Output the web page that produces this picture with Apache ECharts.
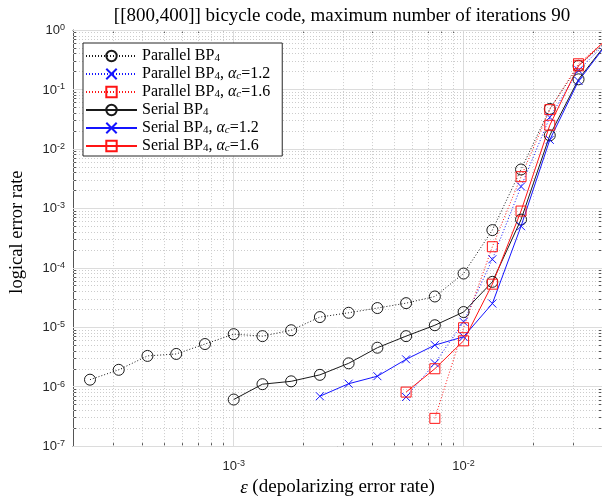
<!DOCTYPE html>
<html><head><meta charset="utf-8">
<script src="https://cdn.jsdelivr.net/npm/echarts@6/dist/echarts.min.js"></script>
<style>html,body{margin:0;padding:0;background:#fff}#c{width:602px;height:502px}</style>
</head><body><div id="c"></div>
<script>
// depolarizing error rates (x positions of the simulated points)
const eps = [2.371e-4, 3.162e-4, 4.217e-4, 5.623e-4, 7.499e-4, 1.0e-3, 1.334e-3, 1.778e-3, 2.371e-3,
             3.162e-3, 4.217e-3, 5.623e-3, 7.499e-3, 1.0e-2, 1.334e-2, 1.778e-2, 2.371e-2, 3.162e-2, 4.217e-2];
// logical error rates, aligned with eps (null = not simulated)
const parallelBP4 = [1.31e-6, 1.92e-6, 3.29e-6, 3.55e-6, 5.21e-6, 7.64e-6, 7.08e-6, 8.9e-6, 1.48e-5,
                     1.75e-5, 2.1e-5, 2.54e-5, 3.29e-5, 8.0e-5, 4.3e-4, 4.5e-3, 0.047, 0.25, 0.66];
const parallelBP4a12 = [null, null, null, null, null, null, null, null, null,
                        null, null, 6.7e-7, 2.47e-6, 1.23e-5, 1.39e-4, 2.33e-3, 0.034, 0.21, 0.64];
const parallelBP4a16 = [null, null, null, null, null, null, null, null, null,
                        null, null, null, 2.93e-7, 9.8e-6, 2.26e-4, 3.41e-3, 0.0457, 0.27, 0.7];
const serialBP4 = [null, null, null, null, null, 6.07e-7, 1.1e-6, 1.23e-6, 1.58e-6,
                   2.47e-6, 4.52e-6, 7.08e-6, 1.08e-5, 1.8e-5, 5.8e-5, 6.46e-4, 0.0169, 0.148, 0.62];
const serialBP4a12 = [null, null, null, null, null, null, null, null, 6.9e-7,
                      1.12e-6, 1.5e-6, 2.88e-6, 5.0e-6, 6.9e-6, 2.5e-5, 5.0e-4, 0.0142, 0.139, 0.6];
const serialBP4a16 = [null, null, null, null, null, null, null, null, null,
                      null, null, 8.1e-7, 2.0e-6, 5.9e-6, 5.3e-5, 9.0e-4, 0.025, 0.25, 0.72];

const seriesNames = ['Parallel BP4', 'Parallel BP4, αc=1.2', 'Parallel BP4, αc=1.6',
                     'Serial BP4', 'Serial BP4, αc=1.2', 'Serial BP4, αc=1.6'];
const xTicks = [1e-3, 1e-2];
const yTicks = [1e-7, 1e-6, 1e-5, 1e-4, 1e-3, 1e-2, 1e-1, 1];
const X_MIN = 2e-4, X_MAX = 4e-2, Y_MIN = 1e-7, Y_MAX = 1;

function minorTicks(lo, hi) {
  const out = [];
  const decades = [1e-7, 1e-6, 1e-5, 1e-4, 1e-3, 1e-2, 1e-1];
  decades.forEach(d => { for (let m = 2; m <= 9; m++) { const v = m * d; if (v > lo * 1.0001 && v < hi * 0.9999) out.push(v); } });
  return out;
}
const xMinor = minorTicks(X_MIN, X_MAX);
const yMinor = minorTicks(Y_MIN, Y_MAX);

function pairs(vals) { return eps.map((x, i) => vals[i] == null ? null : [x, vals[i]]).filter(Boolean); }

const SANS = 'Liberation Sans, Arial, sans-serif';
const SERIF = 'Liberation Serif, Times New Roman, serif';
const AX = '#555';
const supRich = {
  b: { fontFamily: SANS, fontSize: 13, color: '#262626', verticalAlign: 'bottom', lineHeight: 14, padding: [6, 0, 0, 0] },
  s: { fontFamily: SANS, fontSize: 9, color: '#262626', verticalAlign: 'top', lineHeight: 10 }
};
function powLabel(v) { const e = Math.round(Math.log10(v)); return '{b|10}{s|' + e + '}'; }

function xAx(pos, ticks, len, labels, line) {
  return {
    type: 'log', logBase: 10, min: X_MIN, max: X_MAX, position: pos,
    axisLine: { show: line, onZero: false, lineStyle: { color: AX, width: 1 } },
    axisTick: { show: true, inside: true, length: len, customValues: ticks, lineStyle: { color: AX, width: 1 } },
    axisLabel: labels ? { show: true, customValues: xTicks, formatter: powLabel, rich: supRich, margin: 13 } : { show: false },
    splitLine: { show: false }, minorTick: { show: false }
  };
}
function yAx(pos, ticks, len, labels, line) {
  return {
    type: 'log', logBase: 10, min: Y_MIN, max: Y_MAX, position: pos,
    axisLine: { show: line, onZero: false, lineStyle: { color: AX, width: 1 } },
    axisTick: { show: true, inside: true, length: len, customValues: ticks, lineStyle: { color: AX, width: 1 } },
    axisLabel: labels ? { show: true, customValues: yTicks, formatter: powLabel, rich: supRich, margin: 8 } : { show: false },
    splitLine: { show: false }, minorTick: { show: false }
  };
}

const xAxes = [xAx('bottom', xTicks, 5, true, true), xAx('bottom', xMinor, 3, false, false),
               xAx('top', xTicks, 5, false, true), xAx('top', xMinor, 3, false, false)];
xAxes[0].name = '{i|ε} (depolarizing error rate)';
xAxes[0].nameLocation = 'middle';
xAxes[0].nameGap = 31;
xAxes[0].nameTextStyle = { fontFamily: SERIF, fontSize: 19, color: '#000', rich: { i: { fontFamily: SERIF, fontStyle: 'italic', fontSize: 19, color: '#000' } } };
const yAxes = [yAx('left', yTicks, 5, true, true), yAx('left', yMinor, 3, false, false),
               yAx('right', yTicks, 5, false, true), yAx('right', yMinor, 3, false, false)];
yAxes[0].name = 'logical error rate';
yAxes[0].nameLocation = 'middle';
yAxes[0].nameGap = 46;
yAxes[0].nameTextStyle = { fontFamily: SERIF, fontSize: 18.5, color: '#000', padding: [0, 0, 0, 12] };

const gridLines = [];
xTicks.forEach(v => gridLines.push({ xAxis: v, lineStyle: { type: 'solid', color: '#dcdcdc', width: 1 } }));
xMinor.forEach(v => gridLines.push({ xAxis: v, lineStyle: { type: [1, 2], color: '#cccccc', width: 1 } }));
yTicks.forEach(v => gridLines.push({ yAxis: v, lineStyle: { type: 'solid', color: '#dcdcdc', width: 1 } }));
yMinor.forEach(v => gridLines.push({ yAxis: v, lineStyle: { type: [1, 2], color: '#cccccc', width: 1 } }));

const X_PATH = 'path://M0,0L10,10M10,0L0,10';
function mk(name, vals, color, dotted, symbol, size) {
  return {
    name, type: 'line', data: pairs(vals), xAxisIndex: 0, yAxisIndex: 0, z: 5, clip: true,
    symbol, symbolSize: size, showAllSymbol: true,
    lineStyle: { color, width: 1, type: dotted ? [1, 2] : 'solid' },
    itemStyle: { color: 'rgba(255,255,255,0)', borderColor: color, borderWidth: 1 },
    emphasis: { disabled: true }
  };
}
const BLK = '#1a1a1a', BLU = '#1414ff', RED = '#ff1414';
const series = [
  { type: 'line', data: [], z: 1, silent: true, xAxisIndex: 0, yAxisIndex: 0,
    markLine: { silent: true, precision: 20, symbol: ['none', 'none'], label: { show: false }, animation: false, data: gridLines } },
  mk(seriesNames[0], parallelBP4, BLK, true, 'circle', 11),
  mk(seriesNames[1], parallelBP4a12, BLU, true, X_PATH, 8),
  mk(seriesNames[2], parallelBP4a16, RED, true, 'rect', 10),
  mk(seriesNames[3], serialBP4, BLK, false, 'circle', 11),
  mk(seriesNames[4], serialBP4a12, BLU, false, X_PATH, 8),
  mk(seriesNames[5], serialBP4a16, RED, false, 'rect', 10)
];

function legendLabel(name) {
  const parts = name.split(', ');
  let s = '{t|' + parts[0].replace('BP4', 'BP') + '}{sub|4}';
  if (parts[1]) s += '{t|, }{a|α}{subi|c}{t|' + parts[1].slice(2) + '}';
  return s;
}

const chart = echarts.init(document.getElementById('c'), null, { renderer: 'canvas' });
chart.setOption({
  animation: false,
  backgroundColor: '#fff',
  title: { text: '[[800,400]] bicycle code, maximum number of iterations 90', left: 337, top: 2, textAlign: 'center',
           textStyle: { fontFamily: SERIF, fontSize: 19, fontWeight: 'normal', color: '#000' } },
  grid: { left: 71, right: 0, top: 30, bottom: 52, containLabel: false },
  xAxis: xAxes, yAxis: yAxes,
  legend: {
    data: seriesNames, orient: 'vertical', left: 83, top: 43, itemWidth: 51, itemHeight: 13, itemGap: 0,
    padding: [3, 12, 2, 2], borderColor: '#262626', borderWidth: 1, backgroundColor: '#fff', z: 10,
    formatter: legendLabel, selectedMode: false,
    textStyle: { fontFamily: SERIF, fontSize: 16, color: '#000',
      rich: {
        t: { fontFamily: SERIF, fontSize: 16, color: '#000', lineHeight: 16 },
        a: { fontFamily: SERIF, fontSize: 16, fontStyle: 'italic', color: '#000', lineHeight: 16 },
        sub: { fontFamily: SERIF, fontSize: 11, color: '#000', verticalAlign: 'bottom', lineHeight: 10, padding: [7, 0, 0, 0] },
        subi: { fontFamily: SERIF, fontSize: 11, fontStyle: 'italic', color: '#000', verticalAlign: 'bottom', lineHeight: 10, padding: [7, 0, 0, 0] }
      } }
  },
  series
});
</script></body></html>
